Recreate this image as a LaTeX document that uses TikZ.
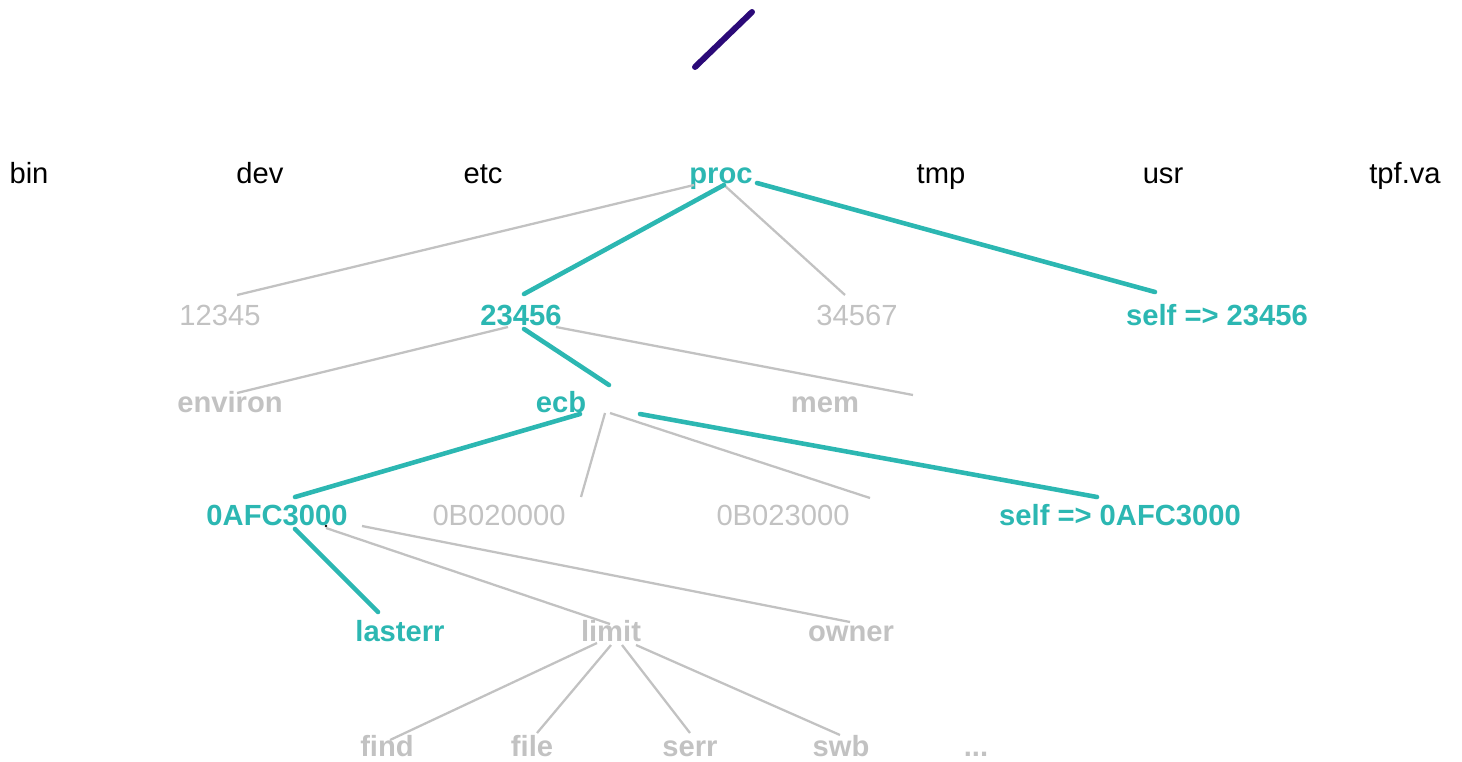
\documentclass[tikz,border=0pt]{standalone}
\usepackage{fontspec}
\setmainfont{Liberation Sans}
\usepackage{tikz}

\definecolor{hotteal}{HTML}{2CB7B2}
\definecolor{coldgray}{HTML}{C2C2C2}
\definecolor{slashpurple}{HTML}{2B0A78}

\tikzset{
    dirname/.style={anchor=base, inner sep=0pt, font=\fontsize{16.6}{19}\selectfont},
    hot/.style={dirname, hotteal, font=\fontsize{16.6}{19}\selectfont\bfseries},
    cold/.style={dirname, coldgray},
    coldb/.style={dirname, coldgray, font=\fontsize{16.6}{19}\selectfont\bfseries},
    hotline/.style={hotteal, line width=2.6pt, line cap=round},
    coldline/.style={coldgray, line width=1.3pt}
}

\begin{document}
\begin{tikzpicture}[x=0.02cm, y=-0.02cm]
    \useasboundingbox (0,0) rectangle (1462,761);

    % Root
    \draw[slashpurple, line width=3.4pt, line cap=round] (695,67) -- (752,12);

    % Top level
    \node[dirname] (bin) at (29,183) {bin};
    \node[dirname] (dev) at (260,183) {dev};
    \node[dirname] (etc) at (483,183) {etc};
    \node[hot] (proc) at (721,183) {proc};
    \node[dirname] (tmp) at (941,183) {tmp};
    \node[dirname] (usr) at (1163,183) {usr};
    \node[dirname] (tpfva) at (1405,183) {tpf.va};

    % Processes
    \node[cold] (p12345) at (220,325) {12345};
    \node[hot] (p23456) at (521,325) {23456};
    \node[cold] (p34567) at (857,325) {34567};
    \node[hot] (self) at (1217,325) {self => 23456};

    % Inside the process
    \node[coldb] (environ) at (230,412) {environ};
    \node[hot] (ecb) at (561,412) {ecb};
    \node[coldb] (mem) at (825,412) {mem};

    % ECBs
    \node[hot] (ecbA) at (277,525) {0AFC3000};
    \node[cold] (ecbB) at (499,525) {0B020000};
    \node[cold] (ecbC) at (783,525) {0B023000};
    \node[hot] (selfecb) at (1120,525) {self => 0AFC3000};
    \fill[black] (326,526) circle (1.4);

    % Inside the ECB
    \node[hot] (lasterr) at (400,641) {lasterr};
    \node[coldb] (limit) at (611,641) {limit};
    \node[coldb] (owner) at (851,641) {owner};

    % Limits
    \node[coldb] (find) at (387,756) {find};
    \node[coldb] (file) at (532,756) {file};
    \node[coldb] (serr) at (690,756) {serr};
    \node[coldb] (swb) at (841,756) {swb};
    \node[coldb] (more) at (976,756) {...};

    % Line ends
    \coordinate (ProcL) at (694,185);
    \coordinate (ProcM) at (724,185);
    \coordinate (ProcR) at (757,183);
    \coordinate (P12345Top) at (237,295);
    \coordinate (P23456Top) at (524,294);
    \coordinate (P34567Top) at (845,295);
    \coordinate (SelfTop) at (1155,292);
    \coordinate (P23456L) at (508,327);
    \coordinate (P23456M) at (524,329);
    \coordinate (P23456R) at (556,327);
    \coordinate (EnvironTop) at (237,393);
    \coordinate (EcbTop) at (609,385);
    \coordinate (MemTop) at (913,395);
    \coordinate (EcbL) at (580,414);
    \coordinate (EcbM) at (605,413);
    \coordinate (EcbN) at (610,413);
    \coordinate (EcbR) at (640,414);
    \coordinate (EcbATop) at (295,497);
    \coordinate (EcbBTop) at (581,497);
    \coordinate (EcbCTop) at (870,498);
    \coordinate (SelfEcbTop) at (1097,497);
    \coordinate (EcbAL) at (295,529);
    \coordinate (EcbAM) at (326,528);
    \coordinate (EcbAR) at (362,526);
    \coordinate (LasterrTop) at (378,612);
    \coordinate (LimitTop) at (610,624);
    \coordinate (OwnerTop) at (850,622);
    \coordinate (LimitA) at (597,643);
    \coordinate (LimitB) at (611,645);
    \coordinate (LimitC) at (622,645);
    \coordinate (LimitD) at (636,645);
    \coordinate (FindTop) at (390,740);
    \coordinate (FileTop) at (537,733);
    \coordinate (SerrTop) at (690,733);
    \coordinate (SwbTop) at (840,735);

    % Paths not taken
    \draw[coldline] (ProcL) -- (P12345Top);
    \draw[coldline] (ProcM) -- (P34567Top);
    \draw[coldline] (P23456L) -- (EnvironTop);
    \draw[coldline] (P23456R) -- (MemTop);
    \draw[coldline] (EcbM) -- (EcbBTop);
    \draw[coldline] (EcbN) -- (EcbCTop);
    \draw[coldline] (EcbAM) -- (LimitTop);
    \draw[coldline] (EcbAR) -- (OwnerTop);
    \draw[coldline] (LimitA) -- (FindTop);
    \draw[coldline] (LimitB) -- (FileTop);
    \draw[coldline] (LimitC) -- (SerrTop);
    \draw[coldline] (LimitD) -- (SwbTop);

    % Path to lasterr
    \draw[hotline] (ProcM) -- (P23456Top);
    \draw[hotline] (ProcR) -- (SelfTop);
    \draw[hotline] (P23456M) -- (EcbTop);
    \draw[hotline] (EcbL) -- (EcbATop);
    \draw[hotline] (EcbR) -- (SelfEcbTop);
    \draw[hotline] (EcbAL) -- (LasterrTop);
\end{tikzpicture}
\end{document}
